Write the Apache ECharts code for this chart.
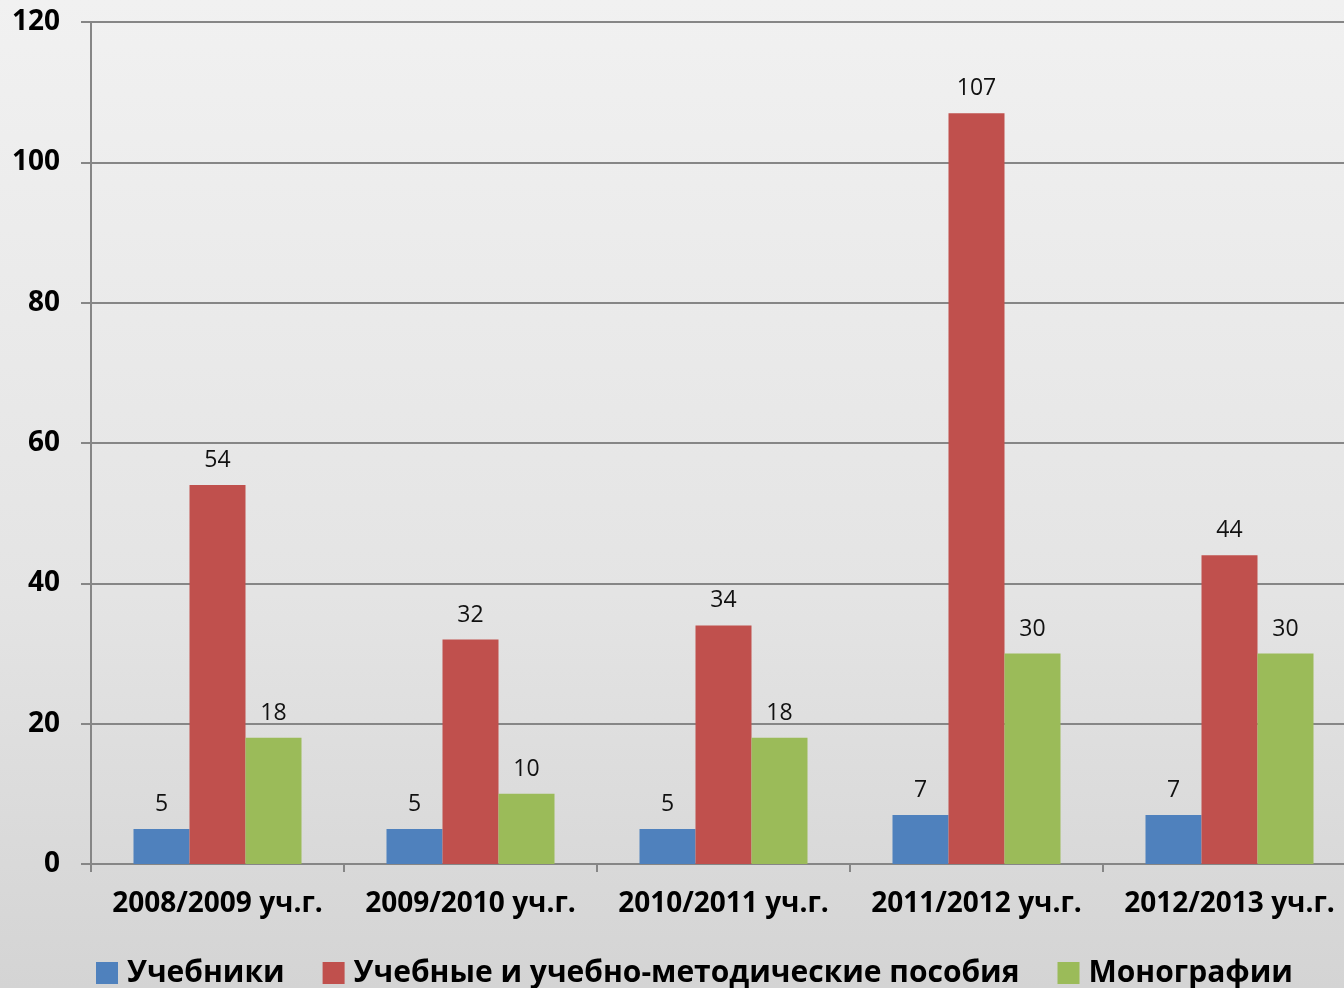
<!DOCTYPE html>
<html><head><meta charset="utf-8">
<script src="https://cdn.jsdelivr.net/npm/echarts@6/dist/echarts.min.js"></script>
<style>html,body{margin:0;padding:0;overflow:hidden;}#c{width:1360px;height:988px;}</style>
</head><body><div id="c"></div>
<script>
const categories = ['2008/2009 уч.г.','2009/2010 уч.г.','2010/2011 уч.г.','2011/2012 уч.г.','2012/2013 уч.г.'];
const textbooks = [5,5,5,7,7];
const manuals = [54,32,34,107,44];
const monographs = [18,10,18,30,30];
const seriesNames = ['Учебники','Учебные и учебно-методические пособия','Монографии'];
const colors = ['#4F81BD','#C0504D','#9BBB59'];

const chart = echarts.init(document.getElementById('c'));
const lbl = {show:true, position:'top', distance:13, color:'#111', fontSize:23, fontFamily:'Open Sans'};
chart.setOption({
  backgroundColor: new echarts.graphic.LinearGradient(0,0,0,1,[{offset:0,color:'#f1f1f1'},{offset:0.6,color:'#e4e4e4'},{offset:1,color:'#d4d4d4'}]),
  animation:false,
  color: colors,
  grid:{left:91, top:22, right:4, bottom:124, containLabel:false},
  legend:{top:953, left:91, itemWidth:22, itemHeight:22, itemGap:38,
    icon:'rect',
    textStyle:{fontSize:30, fontWeight:'bold', color:'#000', fontFamily:'Open Sans', padding:[0,0,0,4]}},
  xAxis:{type:'category', data:categories,
    axisLine:{lineStyle:{color:'#868686', width:2}},
    axisTick:{show:true, length:8, lineStyle:{color:'#868686', width:2}},
    axisLabel:{interval:0, margin:26, fontSize:28, fontWeight:'bold', color:'#000', fontFamily:'Open Sans'}},
  yAxis:{type:'value', min:0, max:120, interval:20,
    axisLine:{show:true, lineStyle:{color:'#868686', width:2}},
    axisTick:{show:true, length:10, lineStyle:{color:'#868686', width:2}},
    splitLine:{lineStyle:{color:'#868686', width:2}},
    axisLabel:{margin:31, fontSize:28, fontWeight:'bold', color:'#000', fontFamily:'Open Sans'}},
  series:[
    {name:seriesNames[0], type:'bar', data:textbooks, barWidth:56, barGap:'0%', label:lbl},
    {name:seriesNames[1], type:'bar', data:manuals, barWidth:56, barGap:'0%', label:lbl},
    {name:seriesNames[2], type:'bar', data:monographs, barWidth:56, barGap:'0%', label:lbl}
  ]
});
</script></body></html>
